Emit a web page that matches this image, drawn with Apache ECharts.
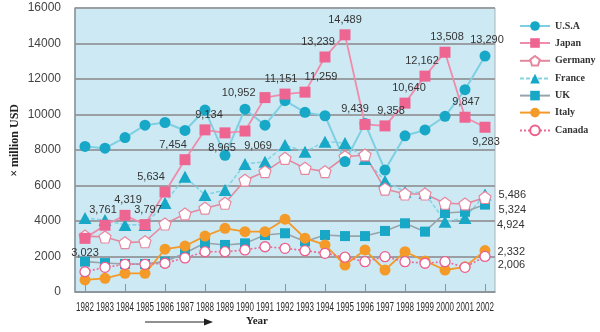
<!DOCTYPE html>
<html>
<head>
<meta charset="utf-8">
<script src="https://cdn.jsdelivr.net/npm/echarts@6/dist/echarts.min.js"></script>
<style>
  html, body { margin: 0; padding: 0; background: #fff; }
  #chart { width: 600px; height: 332px; }
</style>
</head>
<body>
<div id="chart"></div>
<script>
// Years on the category axis
const years = ['1982','1983','1984','1985','1986','1987','1988','1989','1990','1991','1992',
               '1993','1994','1995','1996','1997','1998','1999','2000','2001','2002'];

// Values in million USD
const usa     = [8200, 8100, 8700, 9400, 9550, 9100, 10250, 7700, 10300, 9400, 10780,
                 10120, 9930, 7350, 9500, 6870, 8800, 9130, 9900, 11400, 13290];
const japan   = [3023, 3761, 4319, 3797, 5634, 7454, 9134, 8965, 9069, 10952, 11151,
                 11259, 13239, 14489, 9439, 9358, 10640, 12162, 13508, 9847, 9283];
const germany = [3150, 3100, 2780, 2830, 3830, 4400, 4720, 5000, 6300, 6780, 7530,
                 6970, 6780, 7620, 7720, 5800, 5520, 5520, 5000, 4960, 5324];
const france  = [4170, 4050, 3780, 3780, 5010, 6500, 5470, 5750, 7210, 7340, 8280,
                 7900, 8470, 8400, 7490, 6250, 5650, 5580, 3960, 4170, 5486];
const uk      = [1710, 1630, 1580, 1580, 1710, 2200, 2760, 2650, 2740, 3210, 3310,
                 2850, 3210, 3150, 3150, 3440, 3870, 3400, 4450, 4520, 4924];
const italy   = [680, 770, 1050, 1050, 2410, 2590, 3150, 3590, 3400, 3400, 4100,
                 3030, 2650, 1520, 2370, 1240, 2270, 1750, 1240, 1420, 2332];
const canada  = [1140, 1390, 1560, 1560, 1620, 1920, 2270, 2270, 2370, 2550, 2460,
                 2330, 2180, 1960, 1710, 1990, 1710, 1620, 1710, 1390, 2006];

const yTicks = [0, 2000, 4000, 6000, 8000, 10000, 12000, 14000, 16000];

// Where each Japan value label sits around its marker
const japanLabelPlace = [
  ['bottom', 0, 0], ['top', -2, 0], ['top', 3, 0], ['top', 3, 0], ['top', -14, 0],
  ['top', -12, 0], ['top', 4, 0], ['bottom', -3, 0], ['bottom', 13, 0], ['left', 0, -5],
  ['top', -4, 0], ['top', 16, 0], ['top', -7, 0], ['top', 0, 0], ['top', -10, 0],
  ['top', 6, 0], ['top', 4, 0], ['top', -3, 0], ['top', 2, 0], ['top', 1, 0], ['bottom', 1, 0]
];

const fmt = v => Number(v).toLocaleString('en-US');
const labelFont = { color: '#333', fontSize: 11, fontFamily: 'Liberation Sans, Arial, sans-serif' };
const last = years.length - 1;

// Show only the final year's value, to the right of the marker
function endLabel(values, dy) {
  return values.map((v, i) => i === last
    ? { value: v, label: { show: true, position: 'right', distance: 7, offset: [0, dy], formatter: fmt(v), ...labelFont } }
    : v);
}

const CYAN = '#17a7c7';
const PINK = '#ee6592';
const ORANGE = '#f39a28';
const pentagon = 'path://M50,0 L100,38 L81,100 L19,100 L0,38 Z';

const series = [
  {
    name: 'France', type: 'line', data: endLabel(france, 0),
    symbol: 'triangle', symbolSize: [13, 12],
    itemStyle: { color: CYAN },
    lineStyle: { color: '#86d3e6', width: 1.6, type: [4, 2] }
  },
  {
    name: 'UK', type: 'line', data: endLabel(uk, 20),
    symbol: 'rect', symbolSize: 10,
    itemStyle: { color: CYAN },
    lineStyle: { color: '#97a4ab', width: 1.6 }
  },
  {
    name: 'Germany', type: 'line', data: endLabel(germany, 12),
    symbol: pentagon, symbolSize: 12, symbolKeepAspect: true,
    itemStyle: { color: '#fff', borderColor: '#e7879f', borderWidth: 1.2 },
    lineStyle: { color: '#e3899f', width: 1.6 }
  },
  {
    name: 'Italy', type: 'line', data: endLabel(italy, 1),
    symbol: 'circle', symbolSize: 11,
    itemStyle: { color: ORANGE },
    lineStyle: { color: ORANGE, width: 1.8 }
  },
  {
    name: 'Canada', type: 'line', data: endLabel(canada, 9),
    symbol: 'circle', symbolSize: 10,
    itemStyle: { color: '#fff', borderColor: '#ec5f8c', borderWidth: 1.3 },
    lineStyle: { color: '#ec6b95', width: 1.6, type: [2, 2] }
  },
  {
    name: 'U.S.A', type: 'line',
    data: usa.map((v, i) => i === last
      ? { value: v, label: { show: true, position: 'top', distance: 5, offset: [2, 0], formatter: fmt(v), ...labelFont } }
      : v),
    symbol: 'circle', symbolSize: 11,
    itemStyle: { color: CYAN },
    lineStyle: { color: '#7fcfe2', width: 2 }
  },
  {
    name: 'Japan', type: 'line',
    data: japan.map((v, i) => {
      const p = japanLabelPlace[i];
      return { value: v, label: { show: true, position: p[0], distance: 4, offset: [p[1], p[2]], formatter: fmt(v), ...labelFont } };
    }),
    symbol: 'rect', symbolSize: 11,
    itemStyle: { color: PINK },
    lineStyle: { color: '#f08cab', width: 1.8 }
  }
];

const staticGraphics = [
  {
    type: 'text', left: 9, top: 104, rotation: Math.PI / 2,
    style: { text: '× million USD', fill: '#222', font: 'bold 12px "Liberation Serif", serif' }
  },
  {
    type: 'text', left: 246, top: 316,
    style: { text: 'Year', fill: '#222', font: 'bold 11px "Liberation Serif", serif' }
  },
  {
    type: 'line', shape: { x1: 145, y1: 322, x2: 206, y2: 322 },
    style: { stroke: '#222', lineWidth: 1.2 }
  },
  {
    type: 'polygon', shape: { points: [[213, 322], [204, 318.5], [204, 325.5]] },
    style: { fill: '#222' }
  }
];

const chart = echarts.init(document.getElementById('chart'), null, { renderer: 'canvas' });
chart.setOption({
  animation: false,
  backgroundColor: '#fff',
  grid: {
    left: 75, right: 105, top: 8, bottom: 40,
    show: true, backgroundColor: '#cdeaf4', borderColor: '#a9b3b8', borderWidth: 1
  },
  legend: {
    orient: 'vertical', left: 514, top: 16,
    data: ['U.S.A', 'Japan', 'Germany', 'France', 'UK', 'Italy', 'Canada'],
    itemWidth: 30, itemHeight: 12, itemGap: 7,
    textStyle: { color: '#333', fontSize: 10, fontWeight: 'bold', fontFamily: 'Liberation Serif, DejaVu Serif, serif' }
  },
  xAxis: {
    type: 'category', data: years, boundaryGap: true,
    axisLine: { lineStyle: { color: '#8a9499', width: 1.5 } },
    axisTick: { show: true, inside: true, length: 8, alignWithLabel: true, lineStyle: { color: '#8a9499', width: 1 } },
    // year labels are drawn condensed below, placed from the axis scale
    axisLabel: { show: false },
    splitLine: { show: false }
  },
  yAxis: {
    type: 'value', min: yTicks[0], max: yTicks[yTicks.length - 1], interval: 2000,
    axisLine: { show: true, lineStyle: { color: '#8a9499', width: 1.5 } },
    axisTick: { show: false },
    axisLabel: { color: '#444', fontSize: 12, margin: 14, formatter: v => String(v),
                 fontFamily: 'Liberation Sans, Arial, sans-serif' },
    splitLine: { lineStyle: { color: '#9a9fa3', width: 2 } }
  },
  graphic: staticGraphics,
  series: series
});

// Condensed year labels centred under each category tick
const yearLabels = years.map(y => {
  const x = chart.convertToPixel({ xAxisIndex: 0 }, y);
  const base = chart.convertToPixel({ yAxisIndex: 0 }, yTicks[0]);
  return {
    type: 'text', x: x, y: base + 9, scaleX: 0.64, originX: 0, originY: 0,
    style: { text: y, fill: '#2a2a2a', font: '12.5px "Liberation Sans", Arial, sans-serif',
             align: 'center', verticalAlign: 'top' }
  };
});
chart.setOption({ graphic: staticGraphics.concat(yearLabels) }, { replaceMerge: ['graphic'] });
</script>
</body>
</html>
